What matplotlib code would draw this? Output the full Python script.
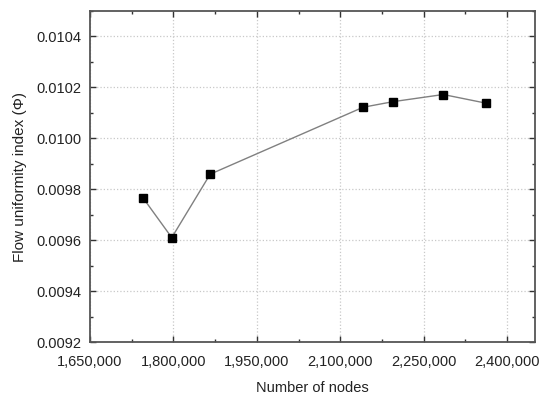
import matplotlib
matplotlib.use("Agg")
import matplotlib.pyplot as plt
from matplotlib.ticker import MultipleLocator, FuncFormatter

nodes = [1745000, 1797000, 1866000, 2141000, 2195000, 2285000, 2362000]
phi = [0.009767, 0.009610, 0.009859, 0.010122, 0.010144, 0.010172, 0.010138]

plt.rcParams['font.family'] = ['Liberation Sans', 'DejaVu Sans']
fig = plt.figure(figsize=(5.5, 3.98), dpi=100)
ax = fig.add_axes([90/550, 1-342/398, 445/550, 331/398])

ax.plot(nodes, phi, color='#808080', lw=1.0, marker='s', ms=5.5,
        mfc='black', mec='black', zorder=3)

ax.set_xlim(1650000, 2450000)
ax.set_ylim(0.0092, 0.0105)
ax.xaxis.set_major_locator(MultipleLocator(150000))
ax.xaxis.set_minor_locator(MultipleLocator(75000))
ax.yaxis.set_major_locator(MultipleLocator(0.0002))
ax.yaxis.set_minor_locator(MultipleLocator(0.0001))
ax.xaxis.set_major_formatter(FuncFormatter(lambda v, p: f"{int(round(v)):,}"))
ax.yaxis.set_major_formatter(FuncFormatter(lambda v, p: f"{v:.4f}"))

ax.grid(True, which='major', color='#c8c8c8', ls=':', lw=0.9)
ax.tick_params(which='both', direction='in', top=True, right=True,
               labelsize=10.5, colors='#333333', labelcolor='#222222')
ax.tick_params(axis='x', which='major', pad=9)
ax.tick_params(axis='y', which='major', pad=6)
ax.tick_params(which='major', length=4, width=1.0)
ax.tick_params(which='minor', length=2.5, width=1.0)
for s in ax.spines.values():
    s.set_color('#555555')
    s.set_linewidth(1.3)

ax.set_xlabel('Number of nodes', fontsize=10.5, labelpad=9, color='#222222')
ax.set_ylabel('Flow uniformity index (Φ)', fontsize=11, labelpad=7, color='#222222')

fig.savefig('out.png', dpi=100)
